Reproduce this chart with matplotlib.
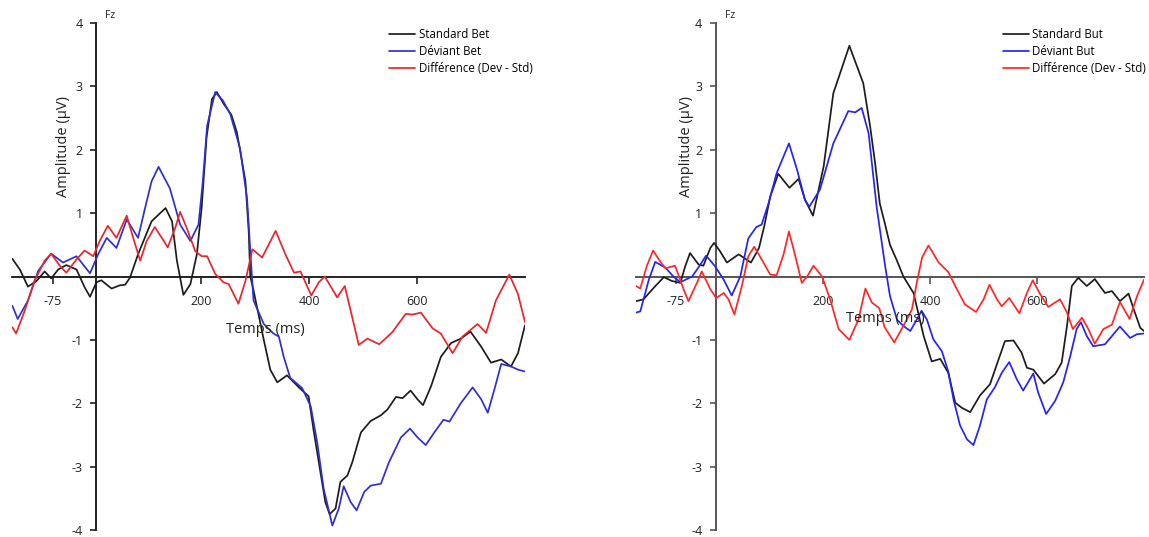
import matplotlib
matplotlib.use("Agg")
import matplotlib.pyplot as plt

plt.rcParams['font.family'] = ['Open Sans', 'DejaVu Sans']
plt.rcParams['axes.unicode_minus'] = False

# ---------------- data (time in ms, amplitude in µV) ----------------
# Left panel : "Bet"
bet_std_t = [-150, -136, -121, -105, -90, -78, -65, -50, -31, -16, -6, 6, 15, 34, 49, 59, 68, 83,
             108, 124, 134, 146, 155, 167, 180, 192, 201, 210, 220, 229, 242, 256, 266, 274, 282,
             288, 291, 297, 316, 328, 341, 359, 381, 399, 408, 421, 430, 438, 449, 458, 471, 480,
             496, 514, 533, 545, 561, 573, 588, 601, 611, 626, 644, 663, 681, 699, 719, 737, 756,
             774, 787, 800]
bet_std_v = [0.28, 0.11, -0.16, -0.07, 0.08, -0.03, 0.11, 0.18, 0.11, -0.17, -0.32, -0.09, -0.06,
             -0.19, -0.14, -0.13, -0.02, 0.35, 0.87, 1.0, 1.08, 0.87, 0.25, -0.29, -0.12, 0.35, 1.1,
             2.2, 2.8, 2.91, 2.72, 2.55, 2.28, 1.9, 1.5, 0.72, 0.0, -0.22, -1.0, -1.47, -1.67, -1.56,
             -1.75, -1.89, -2.41, -3.09, -3.56, -3.75, -3.66, -3.24, -3.14, -2.93, -2.46, -2.28,
             -2.19, -2.10, -1.90, -1.92, -1.80, -1.94, -2.03, -1.73, -1.27, -1.05, -0.98, -0.87,
             -1.11, -1.36, -1.31, -1.42, -1.21, -0.77]

bet_dev_t = [-150, -140, -121, -102, -78, -56, -31, -6, 9, 25, 43, 62, 83, 96, 108, 121, 142, 161,
             180, 195, 203, 211, 226, 240, 254, 272, 285, 294, 297, 316, 334, 344, 353, 365, 387,
             403, 415, 427, 443, 455, 464, 477, 488, 502, 514, 533, 548, 570, 587, 601, 616, 632,
             649, 660, 681, 703, 719, 731, 743, 756, 774, 787, 800]
bet_dev_v = [-0.46, -0.67, -0.38, 0.09, 0.36, 0.22, 0.32, 0.05, 0.35, 0.61, 0.45, 0.90, 0.61, 1.08,
             1.5, 1.73, 1.39, 0.82, 0.56, 0.82, 1.5, 2.38, 2.91, 2.78, 2.56, 2.02, 1.23, 0.0, -0.38,
             -0.75, -0.90, -0.95, -1.27, -1.60, -1.76, -2.05, -2.62, -3.35, -3.93, -3.66, -3.31,
             -3.56, -3.69, -3.40, -3.30, -3.27, -2.93, -2.54, -2.40, -2.54, -2.66, -2.46, -2.26,
             -2.29, -2.0, -1.75, -1.94, -2.15, -1.79, -1.38, -1.42, -1.47, -1.5]

bet_diff_t = [-150, -143, -127, -109, -90, -78, -62, -50, -31, -16, 0, 12, 27, 43, 62, 74, 87, 99,
              114, 127, 138, 152, 161, 173, 189, 201, 211, 226, 241, 251, 269, 282, 295, 313, 338,
              356, 372, 384, 404, 418, 429, 443, 452, 466, 477, 492, 508, 530, 554, 579, 592, 607,
              629, 644, 666, 684, 712, 728, 746, 771, 787, 800]
bet_diff_v = [-0.80, -0.90, -0.54, -0.07, 0.25, 0.36, 0.17, 0.06, 0.27, 0.41, 0.32, 0.56, 0.80,
              0.61, 0.96, 0.61, 0.25, 0.56, 0.78, 0.61, 0.46, 0.77, 1.02, 0.77, 0.40, 0.32, 0.32,
              0.04, -0.09, -0.12, -0.43, -0.07, 0.43, 0.30, 0.72, 0.35, 0.06, 0.08, -0.30, -0.09,
              0.0, -0.20, -0.33, -0.15, -0.54, -1.08, -0.98, -1.07, -0.88, -0.59, -0.60, -0.57,
              -0.82, -0.90, -1.21, -0.95, -0.75, -0.89, -0.38, 0.03, -0.28, -0.72]

# Right panel : "But"
but_std_t = [-150, -136, -117, -98, -83, -67, -58, -49, -33, -24, -11, -4, 7, 20, 42, 65, 80, 90,
             101, 116, 137, 154, 166, 181, 201, 219, 249, 275, 288, 297, 306, 315, 325, 338, 350,
             369, 388, 403, 419, 434, 447, 459, 475, 493, 512, 528, 540, 556, 571, 581, 593, 613,
             634, 646, 656, 665, 677, 693, 708, 727, 740, 755, 771, 783, 793, 800]
but_std_v = [-0.39, -0.36, -0.18, -0.01, -0.07, -0.10, 0.16, 0.37, 0.19, 0.17, 0.45, 0.53, 0.40,
             0.22, 0.35, 0.22, 0.45, 0.80, 1.26, 1.62, 1.40, 1.54, 1.21, 0.96, 1.74, 2.89, 3.64,
             3.05, 2.36, 1.8, 1.15, 0.85, 0.5, 0.25, 0.0, -0.26, -0.94, -1.34, -1.30, -1.52, -1.99,
             -2.07, -2.14, -1.88, -1.70, -1.31, -1.02, -1.01, -1.20, -1.44, -1.47, -1.69, -1.54,
             -1.36, -0.78, -0.15, -0.02, -0.15, -0.04, -0.26, -0.23, -0.39, -0.27, -0.57, -0.81,
             -0.86]

but_dev_t = [-150, -142, -126, -114, -95, -80, -67, -45, -31, -19, -2, 14, 29, 45, 60, 75, 85, 98,
             113, 136, 151, 166, 174, 194, 219, 247, 260, 272, 285, 300, 316, 325, 338, 350, 363,
             375, 384, 394, 406, 422, 434, 444, 456, 469, 481, 493, 506, 521, 534, 548, 562, 574,
             586, 593, 602, 617, 634, 649, 662, 674, 682, 693, 705, 727, 743, 755, 774, 787, 800]
but_dev_v = [-0.57, -0.55, -0.05, 0.23, 0.14, 0.0, -0.09, 0.0, 0.17, 0.33, 0.16, -0.05, -0.30,
             0.0, 0.6, 0.78, 0.82, 1.16, 1.63, 2.10, 1.69, 1.21, 1.10, 1.37, 2.10, 2.61, 2.59,
             2.66, 2.26, 1.1, 0.16, -0.31, -0.68, -0.78, -0.86, -0.68, -0.54, -0.68, -0.99, -1.18,
             -1.5, -1.95, -2.35, -2.57, -2.66, -2.36, -1.94, -1.75, -1.52, -1.35, -1.62, -1.80,
             -1.63, -1.53, -1.83, -2.17, -1.96, -1.67, -1.26, -0.83, -0.72, -0.94, -1.10, -1.07,
             -0.91, -0.79, -0.97, -0.91, -0.90]

but_diff_t = [-150, -142, -130, -118, -105, -95, -77, -61, -52, -36, -27, -11, 0, 14, 23, 34, 48,
              60, 71, 85, 101, 113, 126, 136, 148, 160, 170, 182, 198, 213, 229, 249, 266, 279,
              291, 305, 315, 333, 350, 366, 375, 385, 397, 416, 434, 447, 465, 486, 500, 511, 525,
              534, 548, 567, 581, 592, 606, 621, 643, 656, 667, 684, 696, 708, 724, 740, 755, 773,
              787, 800]
but_diff_v = [-0.15, -0.19, 0.16, 0.41, 0.24, 0.13, 0.17, -0.20, -0.39, -0.10, 0.08, -0.20, -0.34,
              -0.26, -0.36, -0.60, -0.15, 0.32, 0.47, 0.27, 0.03, 0.02, 0.35, 0.71, 0.32, -0.10,
              0.0, 0.17, 0.0, -0.36, -0.83, -1.0, -0.68, -0.19, -0.41, -0.50, -0.80, -1.04, -0.78,
              -0.52, -0.1, 0.3, 0.49, 0.22, 0.07, -0.15, -0.44, -0.56, -0.36, -0.13, -0.36, -0.47,
              -0.34, -0.58, -0.26, -0.06, -0.28, -0.48, -0.36, -0.57, -0.83, -0.65, -0.83, -1.06,
              -0.83, -0.76, -0.40, -0.67, -0.31, -0.05]

x_ticks = [-75, 200, 400, 600]
y_ticks = [-4, -3, -2, -1, 1, 2, 3, 4]


def draw_panel(ax, series, labels, colors, axis_color, spine_x, leg_x, temps_xy):
    for (t, v), lab, col in zip(series, labels, colors):
        ax.plot(t, v, color=col, linewidth=1.25, label=lab, zorder=3,
                solid_joinstyle='round', solid_capstyle='round')

    ax.set_xlim(-150, 800)
    ax.set_ylim(-4, 4)
    for side in ['top', 'right']:
        ax.spines[side].set_visible(False)
    ax.spines['left'].set_position(('data', spine_x))
    ax.spines['bottom'].set_position(('data', 0))
    ax.spines['left'].set_bounds(-4, 4)
    for side in ['left', 'bottom']:
        ax.spines[side].set_color(axis_color)
        ax.spines[side].set_linewidth(1.4)

    ax.set_xticks(x_ticks)
    ax.set_yticks(y_ticks)
    ax.set_xticklabels([str(x) for x in x_ticks])
    ax.set_yticklabels([str(y) for y in y_ticks])
    ax.tick_params(axis='x', direction='out', length=5, width=1.2, color=axis_color,
                   labelsize=9, pad=8, labelcolor='#222222')
    ax.tick_params(axis='y', direction='out', length=4, width=1.2, color=axis_color,
                   labelsize=9, pad=6, labelcolor='#222222')

    ax.text(-56, 2.05, 'Amplitude (µV)', rotation=90, ha='center', va='center',
            fontsize=10.5, color='#222222')
    ax.text(temps_xy[0], temps_xy[1], 'Temps (ms)', ha='center', va='center',
            fontsize=10.5, color='#222222')
    ax.text(spine_x + 26, 4.12, 'Fz', ha='center', va='center', fontsize=7.5, color='#222222')

    ax.legend(loc='upper left', bbox_to_anchor=(leg_x, 0.99), frameon=False, fontsize=8.3,
              handlelength=2.25, handletextpad=0.3, labelspacing=0.36, borderaxespad=0,
              borderpad=0)


fig = plt.figure(figsize=(11.49, 5.37), dpi=100)

ax1 = fig.add_axes([12.3 / 1149, 7 / 537, 512.7 / 1149, 507 / 537])
draw_panel(ax1,
           [(bet_std_t, bet_std_v), (bet_dev_t, bet_dev_v), (bet_diff_t, bet_diff_v)],
           ['Standard Bet', 'Déviant Bet', 'Différence (Dev - Std)'],
           ['#1c1c1c', '#2f2fd0', '#e8252b'],
           '#222222', 6, 0.735, (319, -0.84))

ax2 = fig.add_axes([636 / 1149, 7 / 537, 508 / 1149, 507 / 537])
draw_panel(ax2,
           [(but_std_t, but_std_v), (but_dev_t, but_dev_v), (but_diff_t, but_diff_v)],
           ['Standard But', 'Déviant But', 'Différence (Dev - Std)'],
           ['#1c1c1c', '#2424f5', '#ff2626'],
           '#555555', 0, 0.722, (316, -0.66))

fig.savefig('out.png', dpi=100)
